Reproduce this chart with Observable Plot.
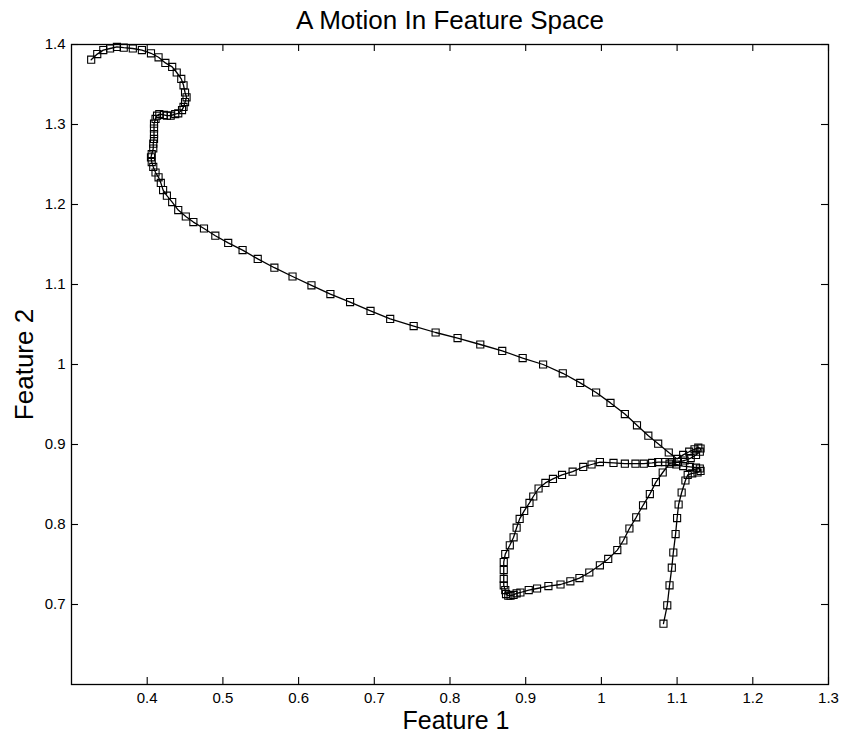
<!DOCTYPE html>
<html><head><meta charset="utf-8">
<script src="https://cdn.jsdelivr.net/npm/d3@7"></script>
<script src="https://cdn.jsdelivr.net/npm/@observablehq/plot@0.6"></script>
<style>
body{margin:0;background:#fff}
#chart{font-family:"Liberation Sans",Arial,sans-serif}
</style>
</head><body><div id="chart"></div>
<script>
const title = "A Motion In Feature Space";
const xLabel = "Feature 1";
const yLabel = "Feature 2";
const xTicks = [0.4, 0.5, 0.6, 0.7, 0.8, 0.9, 1, 1.1, 1.2, 1.3];
const yTicks = [0.7, 0.8, 0.9, 1, 1.1, 1.2, 1.3, 1.4];

// trajectory, in order (Feature 1, Feature 2)
const feature1 = [
  0.326,0.334,0.342,0.351,0.360,0.369,0.381,0.393,0.405,0.415,0.424,0.433,0.439,0.445,0.448,0.450,0.452,0.450,0.448,0.446,
  0.441,0.437,0.431,0.426,0.422,0.416,0.413,0.411,0.409,0.409,0.409,0.409,0.408,0.408,0.406,0.405,0.406,0.408,0.411,0.415,
  0.418,0.421,0.426,0.433,0.441,0.451,0.461,0.475,0.490,0.507,0.526,0.546,0.568,0.592,0.617,0.642,0.668,0.695,0.721,0.752,
  0.781,0.810,0.840,0.869,0.896,0.923,0.949,0.972,0.993,1.012,1.031,1.047,1.062,1.075,1.089,1.100,
  1.108,1.116,1.123,1.128,1.131,1.130,1.125,1.118,1.110,1.101,
  1.093,1.084,1.075,1.067,1.056,1.045,1.031,1.016,0.998,0.987,0.976,0.962,0.948,0.936,0.926,0.917,0.910,0.905,0.898,0.892,
  0.888,0.884,0.879,0.873,0.871,0.871,0.871,0.871,0.873,0.874,0.877,0.880,0.884,0.888,
  0.893,0.904,0.915,0.930,0.946,0.959,0.971,0.984,0.998,1.009,1.021,1.029,1.037,1.046,1.055,1.064,1.072,1.081,1.090,
  1.099,1.108,1.117,1.125,1.130,1.131,1.127,1.120,1.114,
  1.111,1.106,1.102,1.100,1.098,1.095,1.093,1.090,1.087,1.082
];
const feature2 = [
  1.381,1.388,1.393,1.395,1.397,1.396,1.395,1.393,1.389,1.384,1.377,1.372,1.365,1.357,1.349,1.340,1.334,1.328,1.322,1.318,
  1.314,1.313,1.311,1.311,1.312,1.313,1.311,1.307,1.301,1.295,1.288,1.282,1.276,1.270,1.263,1.259,1.253,1.247,1.240,1.234,
  1.227,1.218,1.211,1.203,1.193,1.185,1.178,1.170,1.161,1.152,1.143,1.132,1.121,1.110,1.099,1.088,1.078,1.067,1.057,1.048,
  1.040,1.033,1.025,1.017,1.008,1.000,0.989,0.977,0.965,0.952,0.938,0.924,0.911,0.901,0.890,0.882,
  0.887,0.891,0.894,0.896,0.895,0.891,0.887,0.883,0.880,0.878,
  0.878,0.878,0.878,0.877,0.876,0.876,0.876,0.877,0.878,0.875,0.872,0.866,0.862,0.857,0.852,0.845,0.835,0.827,0.817,0.807,
  0.796,0.784,0.774,0.763,0.753,0.743,0.732,0.724,0.718,0.713,0.711,0.711,0.712,0.714,
  0.715,0.718,0.720,0.723,0.725,0.729,0.733,0.740,0.749,0.757,0.768,0.780,0.795,0.809,0.824,0.838,0.853,0.865,0.876,
  0.875,0.873,0.872,0.871,0.870,0.867,0.865,0.864,0.862,
  0.855,0.840,0.825,0.808,0.788,0.765,0.746,0.724,0.699,0.676
];

const points = feature1.map((x, i) => ({x, y: feature2[i]}));

const W = 844, H = 734;
const mL = 71, mR = 16, mT = 44, mB = 50;
const tickLen = 7;
const innerW = W - mL - mR, innerH = H - mT - mB;

const chart = Plot.plot({
  width: W, height: H,
  marginLeft: mL, marginRight: mR, marginTop: mT, marginBottom: mB,
  style: {fontFamily: "'Liberation Sans', Arial, sans-serif", background: "white", color: "black"},
  x: {domain: [0.3, 1.3]},
  y: {domain: [0.6, 1.4]},
  marks: [
    Plot.frame({stroke: "black", strokeWidth: 1.3}),
    Plot.axisX({ticks: xTicks, anchor: "bottom", tickSize: 0, tickPadding: 7.5, fontSize: 15, label: null, tickFormat: d => String(d)}),
    Plot.axisY({ticks: yTicks, anchor: "left", tickSize: 0, tickPadding: 6, fontSize: 15, label: null, tickFormat: d => String(d)}),
    Plot.tickX(xTicks, {x: d => d, insetTop: innerH - tickLen, stroke: "black", strokeWidth: 1.1}),
    Plot.tickX(xTicks, {x: d => d, insetBottom: innerH - tickLen, stroke: "black", strokeWidth: 1.1}),
    Plot.tickY(yTicks, {y: d => d, insetRight: innerW - tickLen, stroke: "black", strokeWidth: 1.1}),
    Plot.tickY(yTicks, {y: d => d, insetLeft: innerW - tickLen, stroke: "black", strokeWidth: 1.1}),
    Plot.line(points, {x: "x", y: "y", stroke: "black", strokeWidth: 1.3}),
    Plot.dot(points, {x: "x", y: "y", symbol: "square", r: 4, stroke: "black", fill: "none", strokeWidth: 1.1}),
    Plot.text([title], {text: d => d, frameAnchor: "top", textAnchor: "middle", lineAnchor: "middle", dy: -23.5, fontSize: 26, fill: "black"}),
    Plot.text([xLabel], {text: d => d, frameAnchor: "bottom", textAnchor: "middle", lineAnchor: "middle", dx: 6, dy: 36.5, fontSize: 25, fill: "black"}),
    Plot.text([yLabel], {text: d => d, frameAnchor: "left", textAnchor: "middle", lineAnchor: "middle", dx: -47, rotate: -90, fontSize: 26, fill: "black"})
  ]
});
document.getElementById("chart").appendChild(chart);
</script>
</body></html>
